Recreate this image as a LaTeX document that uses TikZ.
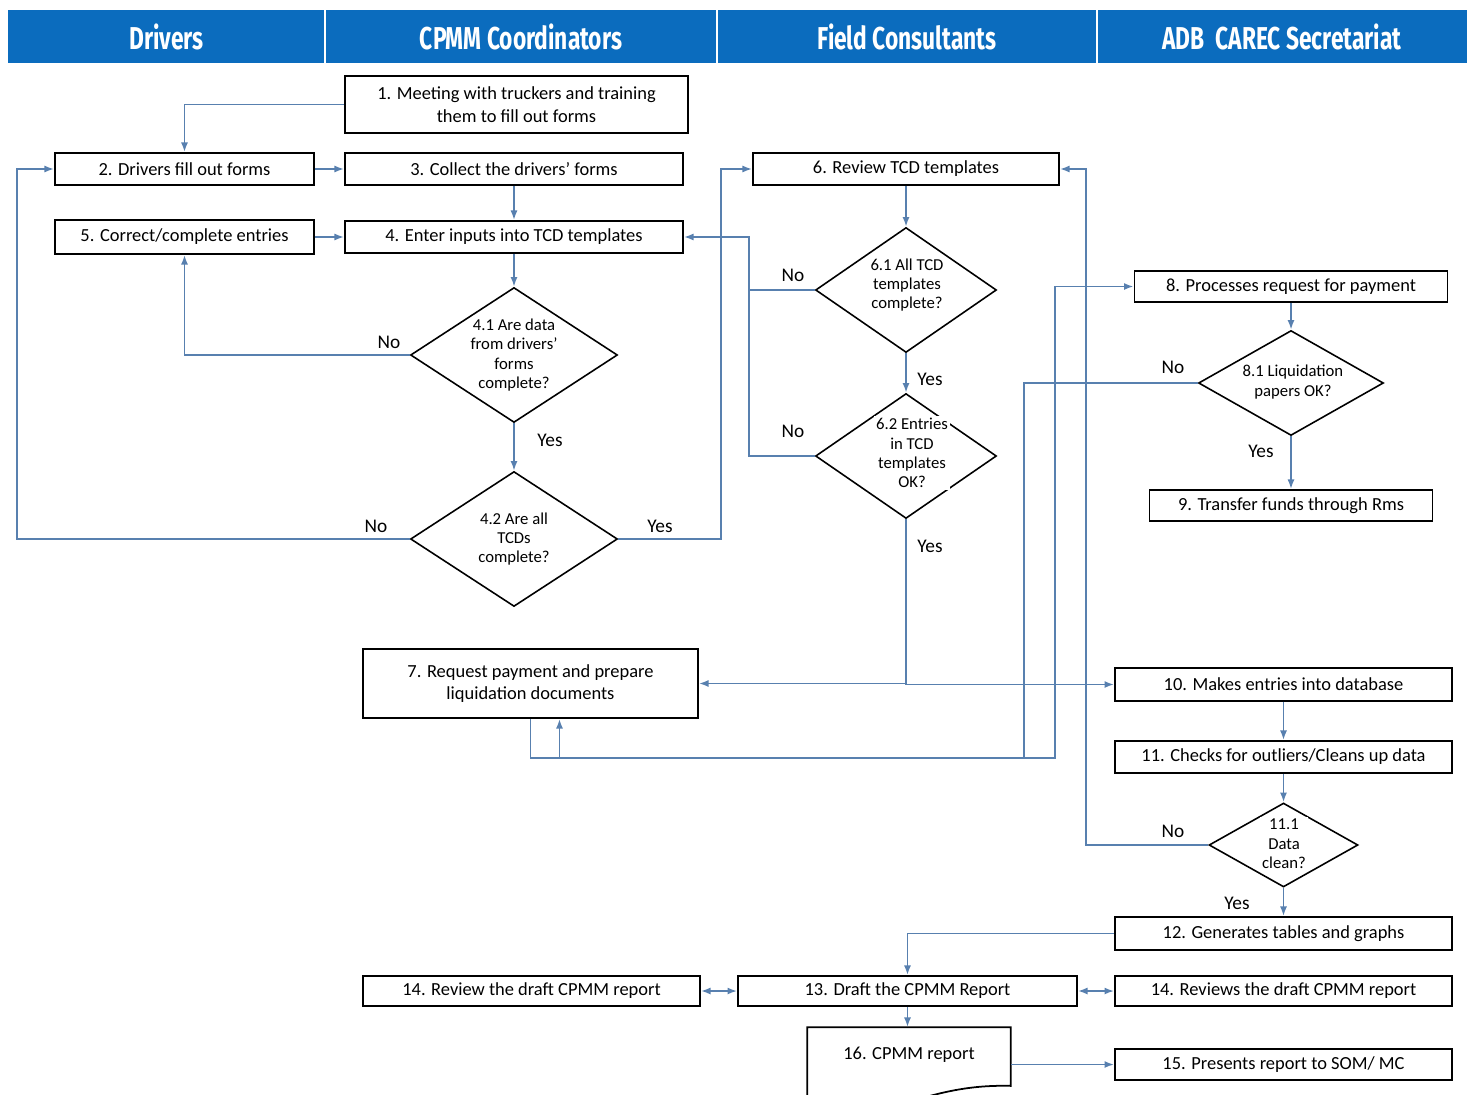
\documentclass[tikz,border=0pt]{standalone}
\usepackage{fontspec}
\setmainfont{Carlito}
\newfontfamily\hdfont[FakeStretch=0.72]{Fira Sans}
\usetikzlibrary{shapes.geometric,arrows.meta}
\definecolor{hdblue}{RGB}{11,108,190}
\definecolor{lnblue}{RGB}{88,128,175}
\begin{document}
\begin{tikzpicture}[x=.02cm,y=-.02cm,
 bx/.style={draw,line width=1pt,minimum height=.64cm,inner sep=1pt,font=\fontsize{10.5}{13}\selectfont,align=center},
 dm/.style={diamond,draw,line width=.9pt,inner sep=0pt},
 dt/.style={inner sep=1pt,font=\fontsize{9.5}{11}\selectfont,align=center},
 fl/.style={lnblue,line width=1pt,-{Latex[length=5.5pt,width=4pt]}},
 fl2/.style={fl,{Latex[length=5.5pt,width=4pt]}-{Latex[length=5.5pt,width=4pt]}},
 yn/.style={font=\fontsize{11}{13}\selectfont},
 hd/.style={white,font=\hdfont\bfseries\fontsize{18}{20}\selectfont}]
\useasboundingbox (0,0) rectangle (1467,1095);
\fill[hdblue] (8,10) rectangle (1467,63);
\foreach \x in {325,717,1097} \draw[white,line width=1pt] (\x,10) -- (\x,63);
\foreach \x/\t [count=\i] in {166.5/Drivers,521/CPMM Coordinators,907/Field Consultants,1282/ADB~~CAREC Secretariat}
 \node[hd] (h\i) at (\x,37) {\t};
\node[bx,minimum width=6.86cm,minimum height=1.14cm] (n1) at (516.5,104.5) {1. Meeting with truckers and training\\them to fill out forms};
\node[bx,minimum width=5.18cm] (n2) at (184.5,169) {2. Drivers fill out forms};
\node[bx,minimum width=6.76cm] (n3) at (514,169) {3. Collect the drivers' forms};
\node[bx,minimum width=5.18cm,minimum height=.68cm] (n5) at (184.5,237) {5. Correct/complete entries};
\node[bx,minimum width=6.76cm] (n4) at (514,237) {4. Enter inputs into TCD templates};
\node[dm,minimum width=4.14cm,minimum height=2.7cm] (d41) at (514,355) {};
\node[dm,minimum width=4.14cm,minimum height=2.7cm] (d42) at (514,539) {};
\node[dt] (t41) at (514,355) {4.1 Are data\\from drivers'\\forms\\complete?};
\node[dt] (t42) at (514,539) {4.2 Are all\\TCDs\\complete?};
\node[bx,minimum width=6.12cm] (n6) at (906,169) {6. Review TCD templates};
\node[dm,minimum width=3.62cm,minimum height=2.5cm] (d61) at (906,290) {};
\node[dm,minimum width=3.62cm,minimum height=2.5cm] (d62) at (906,456) {};
\node[dt,fill=white] (t61) at (907,285) {6.1 All TCD\\templates\\complete?};
\node[dt,fill=white] (t62) at (912,453) {6.2 Entries\\in TCD\\templates\\OK?};
\node[bx,minimum width=6.26cm,minimum height=.62cm] (n8) at (1291,286.5) {8. Processes request for payment};
\node[dm,minimum width=3.7cm,minimum height=2.1cm] (d81) at (1291,383) {};
\node[dt,fill=white] (t81) at (1293,382) {8.1 Liquidation\\papers OK?};
\node[bx,minimum width=5.66cm,minimum height=.62cm] (n9) at (1291,505.5) {9. Transfer funds through Rms};
\node[bx,minimum width=6.7cm,minimum height=1.38cm] (n7) at (530.5,683.5) {7. Request payment and prepare\\liquidation documents};
\node[bx,minimum width=6.74cm,minimum height=.66cm] (n10) at (1283.5,684.5) {10. Makes entries into database};
\node[bx,minimum width=6.74cm] (n11) at (1283.5,757) {11. Checks for outliers/Cleans up data};
\node[dm,minimum width=2.98cm,minimum height=1.68cm] (d111) at (1283.5,845) {};
\node[dt,fill=white] (t111) at (1284,844) {11.1\\Data\\clean?};
\node[bx,minimum width=6.74cm,minimum height=.66cm] (n12) at (1283.5,933.5) {12. Generates tables and graphs};
\node[bx,minimum width=6.78cm,minimum height=.6cm] (n13) at (907.5,991) {13. Draft the CPMM Report};
\node[bx,minimum width=6.74cm,minimum height=.6cm] (n14a) at (531.5,991) {14. Review the draft CPMM report};
\node[bx,minimum width=6.74cm,minimum height=.6cm] (n14b) at (1283.5,991) {14. Reviews the draft CPMM report};
\node[bx,draw=none,minimum width=4.04cm,minimum height=1.08cm] (n16) at (909,1055) {16. CPMM report};
\node[bx,minimum width=6.74cm,minimum height=.62cm] (n15) at (1283.5,1064.5) {15. Presents report to SOM/ MC};
\draw[line width=1pt] ([yshift=-1.6cm]n16.north west) -- (n16.north west) -- (n16.north east) -- ([yshift=-.06cm]n16.south east)
 .. controls (975,1085) and (945,1090) .. (900,1105);
\foreach \n/\x/\y/\t in {a/389/342/No,b/550/440/Yes,c/376/526/No,d/660/526/Yes,e/793/275/No,f/930/379/Yes,
 g/793/431/No,h/930/546/Yes,i/1173/367/No,j/1261/451/Yes,k/1173/831/No,l/1237/903/Yes}
 \node[yn] (l\n) at (\x,\y) {\t};
\draw[fl] (n1.west) -| (n2.north);
\draw[fl] (n2.east) -- (n3.west);
\draw[fl] (n3) -- (n4);
\draw[fl] (n5.east) -- (n5.east -| n4.west);
\draw[fl] (n4) -- (d41);
\draw[fl] (d41) -- (d42);
\draw[fl] (d41.west) -| (n5.south);
\draw[fl] (d42.west) -| ([xshift=-.74cm]n2.west) -- (n2.west);
\draw[fl] (d42.east) -| ([xshift=-.62cm]n6.west) -- (n6.west);
\coordinate (b4) at ([xshift=1.3cm]n4.east);
\draw[fl] (d62.west) -| (b4) -- (n4.east);
\draw[fl,-] (d61.west) -- (d61.west -| b4);
\draw[fl] (n6) -- (d61);
\draw[fl] (d61) -- (d62);
\draw[fl] (d62.south) |- (n7.east);
\draw[fl] (d62.south) |- (n10.west);
\coordinate (lo) at ([yshift=-.78cm]n7.south);
\draw[fl] (n7.south) -- (lo) -| ([xshift=-1.58cm]n8.west) -- (n8.west);
\draw[fl] (d81.west) -- ++(-174,0) |- ([xshift=.58cm]lo) -- ([xshift=.58cm]n7.south);
\draw[fl] (n8) -- (d81);
\draw[fl] (d81) -- (n9);
\draw[fl] (n10) -- (n11);
\draw[fl] (n11) -- (d111);
\draw[fl] (d111) -- (n12);
\draw[fl] (d111.west) -| ([xshift=.52cm]n6.east) -- (n6.east);
\draw[fl] (n12.west) -| (n13.north);
\draw[fl2] (n14a) -- (n13);
\draw[fl2] (n13) -- (n14b);
\draw[fl] (n13.south) -- (n13.south |- n16.north);
\draw[fl] (n16.east |- n15.west) -- (n15.west);
\end{tikzpicture}
\end{document}
